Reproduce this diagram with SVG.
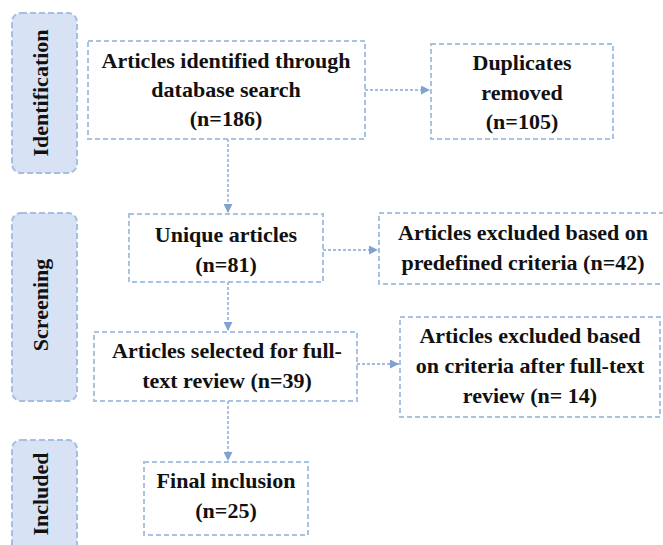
<svg xmlns="http://www.w3.org/2000/svg" width="663" height="545" viewBox="0 0 663 545">
<style>
.stage{fill:#d7e3f4;stroke:#a6bfe0;stroke-width:2;stroke-dasharray:6 3}
.box{fill:#fff;stroke:#a9c2e2;stroke-width:2;stroke-dasharray:5 3}
.t{font-family:'Liberation Serif',serif;font-weight:700;font-size:22px;fill:#111;text-anchor:middle}
.conn{fill:none;stroke:#86a8d3;stroke-width:1.4;stroke-dasharray:3 2}
</style>
<defs>
<marker id="ah" viewBox="0 0 10 10" refX="10" refY="5" markerWidth="9" markerHeight="9" markerUnits="userSpaceOnUse" orient="auto">
<path d="M0,0 L10,5 L0,10 z" fill="#7fa2d0"/>
</marker>
</defs>
<rect width="663" height="545" fill="#fff"/>
<g id="stage-identification">
<rect class="stage" x="12" y="13" width="65" height="160" rx="9"/>
<text class="t" transform="translate(48,93) rotate(-90)">Identification</text>
</g>
<g id="stage-screening">
<rect class="stage" x="12" y="213" width="65" height="188" rx="9"/>
<text class="t" transform="translate(48,305) rotate(-90)">Screening</text>
</g>
<g id="stage-included">
<rect class="stage" x="12" y="440" width="65" height="115" rx="9"/>
<text class="t" transform="translate(48,494) rotate(-90)">Included</text>
</g>
<g id="connectors">
<line class="conn" x1="365" y1="90" x2="430" y2="90" marker-end="url(#ah)"/>
<line class="conn" x1="228" y1="139" x2="228" y2="213" marker-end="url(#ah)"/>
<line class="conn" x1="323" y1="250" x2="378" y2="250" marker-end="url(#ah)"/>
<line class="conn" x1="228" y1="282" x2="228" y2="331" marker-end="url(#ah)"/>
<line class="conn" x1="357" y1="364" x2="399" y2="364" marker-end="url(#ah)"/>
<line class="conn" x1="228" y1="401" x2="228" y2="461" marker-end="url(#ah)"/>
</g>
<g id="n-identified">
<rect class="box" x="88" y="41" width="277" height="98"/>
<text class="t" x="226" y="68">Articles identified through</text>
<text class="t" x="226" y="97">database search</text>
<text class="t" x="226" y="126">(n=186)</text>
</g>
<g id="n-duplicates">
<rect class="box" x="431" y="44" width="182" height="95"/>
<text class="t" x="522" y="70">Duplicates</text>
<text class="t" x="522" y="100">removed</text>
<text class="t" x="522" y="129">(n=105)</text>
</g>
<g id="n-unique">
<rect class="box" x="129" y="214" width="194" height="68"/>
<text class="t" x="226" y="242">Unique articles</text>
<text class="t" x="226" y="272">(n=81)</text>
</g>
<g id="n-excluded1">
<rect class="box" x="379" y="213" width="285" height="71"/>
<text class="t" x="523" y="240">Articles excluded based on</text>
<text class="t" x="523" y="270">predefined criteria (n=42)</text>
</g>
<g id="n-selected">
<rect class="box" x="94" y="332" width="263" height="69"/>
<text class="t" x="227" y="358">Articles selected for full-</text>
<text class="t" x="227" y="388">text review (n=39)</text>
</g>
<g id="n-excluded2">
<rect class="box" x="400" y="317" width="260" height="100"/>
<text class="t" x="530" y="343">Articles excluded based</text>
<text class="t" x="530" y="373">on criteria after full-text</text>
<text class="t" x="530" y="403">review (n= 14)</text>
</g>
<g id="n-final">
<rect class="box" x="144" y="462" width="164" height="73"/>
<text class="t" x="226" y="488">Final inclusion</text>
<text class="t" x="226" y="518">(n=25)</text>
</g>
</svg>
